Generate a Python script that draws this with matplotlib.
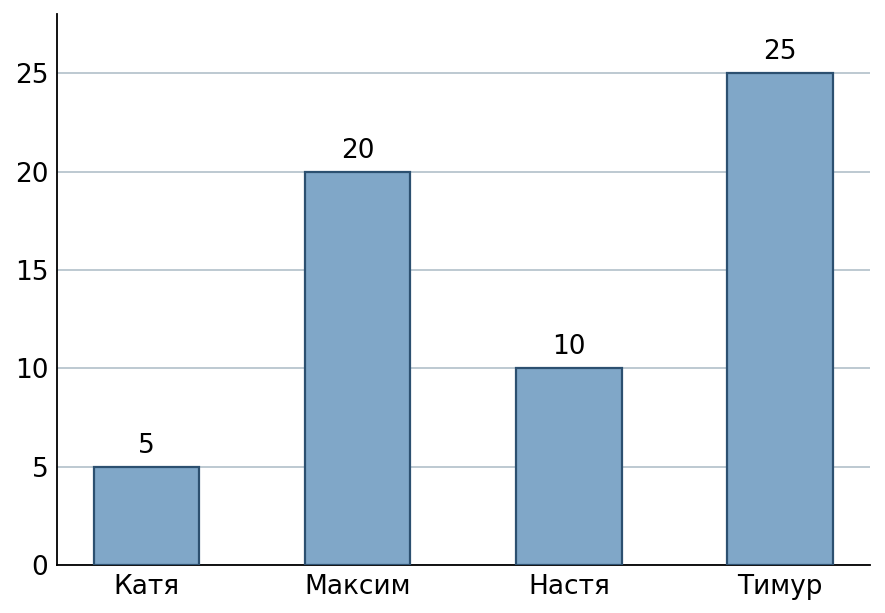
import matplotlib.pyplot as plt

names = ['Катя', 'Максим', 'Настя', 'Тимур']
values = [5, 20, 10, 25]

fig, ax = plt.subplots(figsize=(8.85, 6.13), dpi=100)
bars = ax.bar(names, values, width=0.5, color='#80a7c8', edgecolor='#2c5070', linewidth=1.6, zorder=3)
for b, v in zip(bars, values):
    ax.text(b.get_x() + b.get_width() / 2, v + 0.4, str(v), ha='center', va='bottom', fontsize=19)

ax.set_ylim(0, 28)
ax.set_yticks([0, 5, 10, 15, 20, 25])
ax.yaxis.grid(True, color='#b8c5ce', linewidth=1.3, zorder=0)
ax.spines['top'].set_visible(False)
ax.spines['right'].set_visible(False)
ax.spines['left'].set_linewidth(1.3)
ax.spines['bottom'].set_linewidth(1.3)
ax.tick_params(length=0, labelsize=19, pad=6)

plt.subplots_adjust(left=0.064, right=0.983, top=0.977, bottom=0.078)
plt.savefig('out.png')
